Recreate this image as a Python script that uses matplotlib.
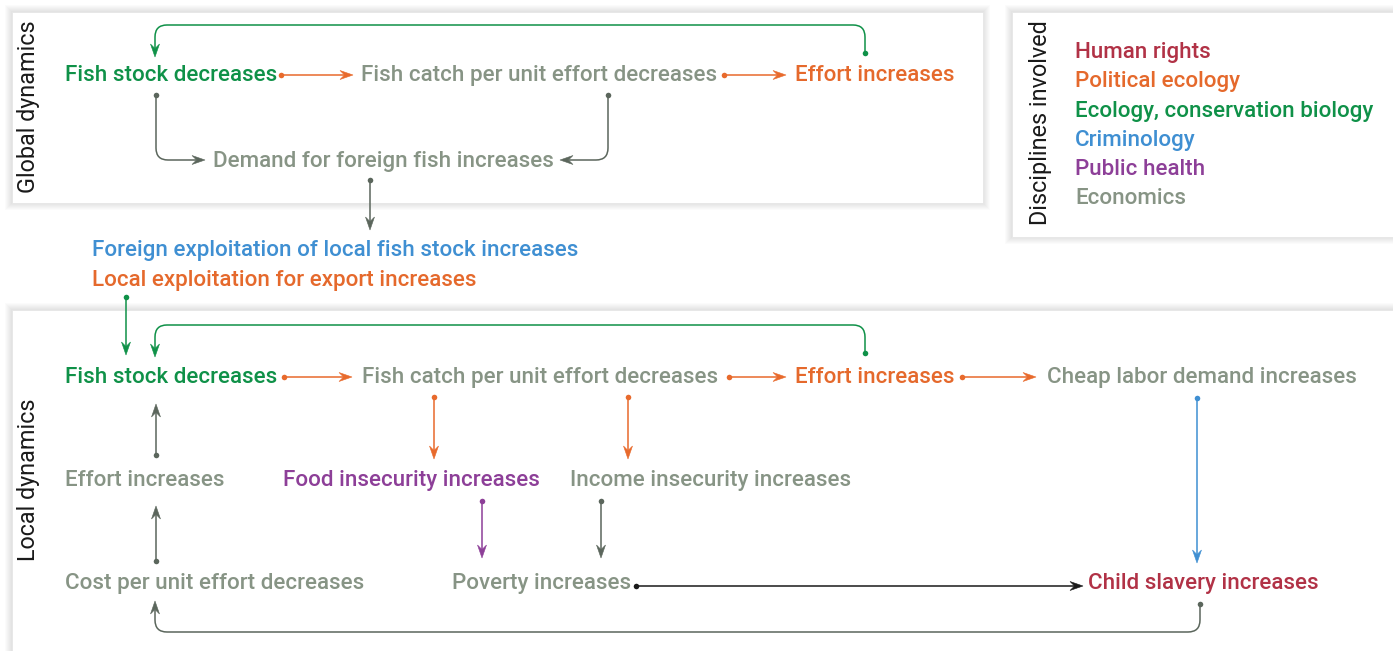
import numpy as np
import matplotlib
matplotlib.use("Agg")
import matplotlib.pyplot as plt
from matplotlib.path import Path
from matplotlib.patches import PathPatch, Polygon, Rectangle

W, H = 1393, 651

# legend: disciplines and their colours
disciplines = ["Human rights", "Political ecology", "Ecology, conservation biology",
               "Criminology", "Public health", "Economics"]
disc_colors = ["#b13246", "#e5692c", "#0f9148", "#3f8fd2", "#8d3f98", "#879485"]

# nodes (label, discipline index)
global_labels = ["Fish stock decreases", "Fish catch per unit effort decreases",
                 "Effort increases", "Demand for foreign fish increases"]
global_disc = [2, 5, 1, 5]
bridge_labels = ["Foreign exploitation of local fish stock increases",
                 "Local exploitation for export increases"]
bridge_disc = [3, 1]
local_labels = ["Fish stock decreases", "Fish catch per unit effort decreases",
                "Effort increases", "Cheap labor demand increases",
                "Effort increases", "Food insecurity increases", "Income insecurity increases",
                "Cost per unit effort decreases", "Poverty increases", "Child slavery increases"]
local_disc = [2, 5, 1, 5, 5, 4, 5, 5, 5, 0]

# ---- layout (pixel coords: left x, baseline y) ----
global_pos = [(65, 81), (361, 81), (795, 81), (213, 167)]
bridge_pos = [(92, 256), (92, 286)]
local_pos = [(65, 383), (362, 383), (795, 383), (1047, 383),
             (65, 486), (283, 486), (570, 486),
             (65, 589), (452, 589), (1088, 589)]

arrow_cols = {"orange": "#e86a2c", "green": "#0f9148", "gray": "#5b665c",
              "purple": "#8d3f98", "blue": "#3f8fd2", "black": "#1a1a1a"}

# edges: colour, waypoints (start has a dot, end has an arrow head)
edges = [
    ("orange", [(281, 75), (353, 75)]),
    ("orange", [(724, 75), (786, 75)]),
    ("green", [(865, 53), (865, 25), (155, 25), (155, 57)]),
    ("gray", [(156, 95), (156, 160), (205, 160)]),
    ("gray", [(608, 95), (608, 160), (560, 160)]),
    ("gray", [(370, 180), (370, 230)]),
    ("green", [(126, 297), (126, 355)]),
    ("green", [(865, 353), (865, 325), (155, 325), (155, 357)]),
    ("orange", [(284, 377), (352, 377)]),
    ("orange", [(729, 377), (786, 377)]),
    ("orange", [(962, 377), (1036, 377)]),
    ("gray", [(156, 455), (156, 404)]),
    ("gray", [(156, 561), (156, 506)]),
    ("orange", [(434, 397), (434, 459)]),
    ("orange", [(628, 397), (628, 459)]),
    ("purple", [(482, 501), (482, 558)]),
    ("gray", [(601, 501), (601, 558)]),
    ("black", [(636, 586), (1083, 586)]),
    ("blue", [(1197, 398), (1197, 563)]),
    ("gray", [(1200, 604), (1200, 632), (155, 632), (155, 601)]),
]

fig = plt.figure(figsize=(W / 100, H / 100), dpi=100)
ax = fig.add_axes([0, 0, 1, 1])
ax.set_xlim(0, W)
ax.set_ylim(H, 0)
ax.axis("off")


def panel(x0, y0, x1, y1):
    # soft shadow then white box
    for k in range(7, 0, -1):
        ax.add_patch(Rectangle((x0 - k, y0 - k), x1 - x0 + 2 * k, y1 - y0 + 2 * k,
                               facecolor="#000000", alpha=0.014, edgecolor="none", zorder=1))
    ax.add_patch(Rectangle((x0, y0), x1 - x0, y1 - y0, facecolor="white",
                           edgecolor="#e6e6e6", lw=0.6, zorder=2))


panel(12, 12, 983, 203)
panel(1012, 12, 1400, 237)
panel(12, 310, 1400, 660)


def rounded_path(pts, r=12):
    pts = np.asarray(pts, float)
    verts = [pts[0]]
    codes = [Path.MOVETO]
    for i in range(1, len(pts) - 1):
        p, c, n = pts[i - 1], pts[i], pts[i + 1]
        d_in = (c - p) / np.linalg.norm(c - p)
        d_out = (n - c) / np.linalg.norm(n - c)
        verts += [c - r * d_in, c, c + r * d_out]
        codes += [Path.LINETO, Path.CURVE3, Path.CURVE3]
    verts.append(pts[-1])
    codes.append(Path.LINETO)
    return Path(verts, codes)


def draw_edge(col, pts):
    c = arrow_cols[col]
    pts = np.asarray(pts, float)
    tip = pts[-1]
    d = (tip - pts[-2]) / np.linalg.norm(tip - pts[-2])
    nrm = np.array([-d[1], d[0]])
    L, hw = 13, 4.5
    back = tip - L * d
    notch = tip - 0.65 * L * d
    line_pts = pts.copy()
    line_pts[-1] = notch
    ax.add_patch(PathPatch(rounded_path(line_pts), facecolor="none", edgecolor=c,
                           lw=1.1, zorder=3, capstyle="butt"))
    ax.add_patch(Polygon([tip, back + hw * nrm, notch, back - hw * nrm], closed=True,
                         facecolor=c, edgecolor=c, lw=0.4, zorder=4))
    ax.plot([pts[0][0]], [pts[0][1]], "o", color=c, ms=4, mec="none", zorder=4)


for col, pts in edges:
    draw_edge(col, pts)

node_font = dict(family=["Roboto", "DejaVu Sans"], fontsize=16.1, weight="medium",
                 va="baseline", ha="left", zorder=5)
for labels, disc, pos in [(global_labels, global_disc, global_pos),
                          (bridge_labels, bridge_disc, bridge_pos),
                          (local_labels, local_disc, local_pos)]:
    for lab, d, (x, y) in zip(labels, disc, pos):
        ax.text(x, y, lab, color=disc_colors[d], **node_font)

for i, (name, c) in enumerate(zip(disciplines, disc_colors)):
    ax.text(1075, 58 + i * 29.3, name, color=c, **node_font)

side_font = dict(family=["Roboto", "DejaVu Sans"], fontsize=16.8, weight="normal",
                 rotation=90, ha="center", va="center", color="#1a1a1a", zorder=5)
ax.text(29, 107, "Global dynamics", **side_font)
ax.text(29, 480, "Local dynamics", **side_font)
ax.text(1040, 123, "Disciplines involved", **side_font)

fig.savefig("out.png", dpi=100, facecolor="white")
